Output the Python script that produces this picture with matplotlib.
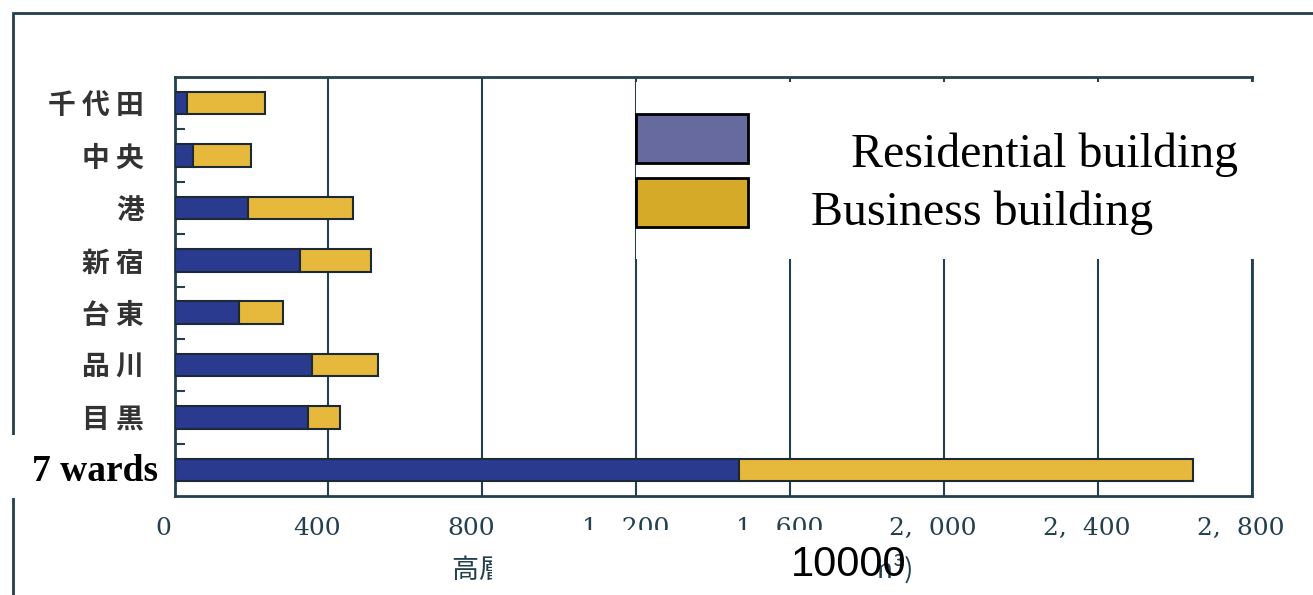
import matplotlib.pyplot as plt
import matplotlib.transforms as mtransforms
from matplotlib.patches import Rectangle

# floor area of high-rise buildings by ward
wards = ["千代田", "中央", "港", "新宿", "台東", "品川", "目黒", "7 wards"]
residential = [32, 48, 190, 327, 168, 357, 347, 1466]
business = [204, 150, 275, 184, 114, 172, 83, 1180]
x_ticks = [0, 400, 800, 1200, 1600, 2000, 2400, 2800]
x_tick_labels = ["0", "400", "800", "1,  200", "1,  600", "2,  000", "2,  400", "2,  800"]
legend_labels = ["Residential building", "Business building"]
axis_title = "高層建築物の延べ床面積　　　(千m³)"
unit_note = "10000"

W, H = 1313, 595
INK = "#23404c"
BLUE = "#2a3a8e"
GOLD = "#e6b83c"

cjk = ["Noto Sans CJK JP", "DejaVu Sans"]


def fpx(x, y):
    # pixel position -> figure fraction
    return x / W, 1 - y / H


fig = plt.figure(figsize=(W / 100, H / 100), dpi=100)
ax = fig.add_axes([174.5 / W, 1 - 496 / H, (1252 - 174.5) / W, (496 - 77) / H])

pos = list(range(len(wards)))
ax.barh(pos, residential, height=0.43, color=BLUE, edgecolor="#1c2a36", linewidth=1.5, zorder=3)
ax.barh(pos, business, left=residential, height=0.43, color=GOLD, edgecolor="#1c2a36",
        linewidth=1.5, zorder=3)

ax.set_xlim(0, 2800)
ax.set_ylim(7.5, -0.5)
ax.set_xticks(x_ticks)
ax.set_xticklabels(x_tick_labels, family="DejaVu Serif", fontsize=18, color=INK)
ax.tick_params(axis="x", length=0, pad=15)
shift = mtransforms.ScaledTranslation(-0.11, 0, fig.dpi_scale_trans)
for lab in ax.get_xticklabels():
    lab.set_transform(lab.get_transform() + shift)

ylabels = [" ".join(w) for w in wards[:-1]] + [""]
ax.set_yticks(pos)
ax.set_yticklabels(ylabels, family=cjk, fontsize=20, fontweight="bold", color="#333333")
ax.tick_params(axis="y", length=0, pad=22)
ax.set_yticks([p + 0.5 for p in pos[:-1]], minor=True)
ax.tick_params(axis="y", which="minor", direction="in", length=7, width=1.5, color=INK)

ax.grid(axis="x", color=INK, linewidth=1.5, zorder=1)
for s in ax.spines.values():
    s.set_color(INK)
    s.set_linewidth(2)

# outer frame of the page (runs off the right and bottom edges)
fx0, fy0 = fpx(13, 700)
fx1, fy1 = fpx(1400, 13)
fig.add_artist(Rectangle((fx0, fy0), fx1 - fx0, fy1 - fy0, transform=fig.transFigure,
                         fill=False, edgecolor=INK, linewidth=2, zorder=0))

# axis title underneath
tx, ty = fpx(452, 569)
fig.text(tx, ty, axis_title, family=cjk, fontsize=19.5, color=INK, ha="left", va="center")

# legend panel
lx, ly = fpx(635.5, 259)
fig.add_artist(Rectangle((lx, ly), 1 - lx, (259 - 81.7) / H, transform=fig.transFigure,
                         facecolor="white", edgecolor="none", zorder=5))
for (y0, y1), c in zip([(114, 163), (178, 227)], ["#666a9e", "#d5aa28"]):
    x0, b = fpx(636, y1)
    fig.add_artist(Rectangle((x0, b), (748 - 636) / W, (y1 - y0) / H, transform=fig.transFigure,
                             facecolor=c, edgecolor="black", linewidth=2, zorder=6))
rx, ry = fpx(851, 167)
fig.text(rx, ry, legend_labels[0], family="Liberation Serif", fontsize=34.5, ha="left",
         va="baseline", zorder=7)
bx, by = fpx(811, 225)
fig.text(bx, by, legend_labels[1], family="Liberation Serif", fontsize=34.5, ha="left",
         va="baseline", zorder=7)

# label panel for the total row
wx, wy = fpx(12, 498)
fig.add_artist(Rectangle((wx, wy), (172 - 12) / W, (498 - 435) / H, transform=fig.transFigure,
                         facecolor="white", edgecolor="none", zorder=5))
sx, sy = fpx(95.5, 481)
fig.text(sx, sy, wards[-1], family="Liberation Serif", fontsize=27, fontweight="bold",
         ha="center", va="baseline", zorder=7)

# unit panel
ux, uy = fpx(491.7, 595)
fig.add_artist(Rectangle((ux, uy), (877 - 491.7) / W, (595 - 530) / H, transform=fig.transFigure,
                         facecolor="white", edgecolor="none", zorder=5))
nx, ny = fpx(849, 565)
fig.text(nx, ny, unit_note, family="Liberation Sans", fontsize=30, ha="center", va="center",
         zorder=7)

fig.savefig("out.png", dpi=100, facecolor="white")
